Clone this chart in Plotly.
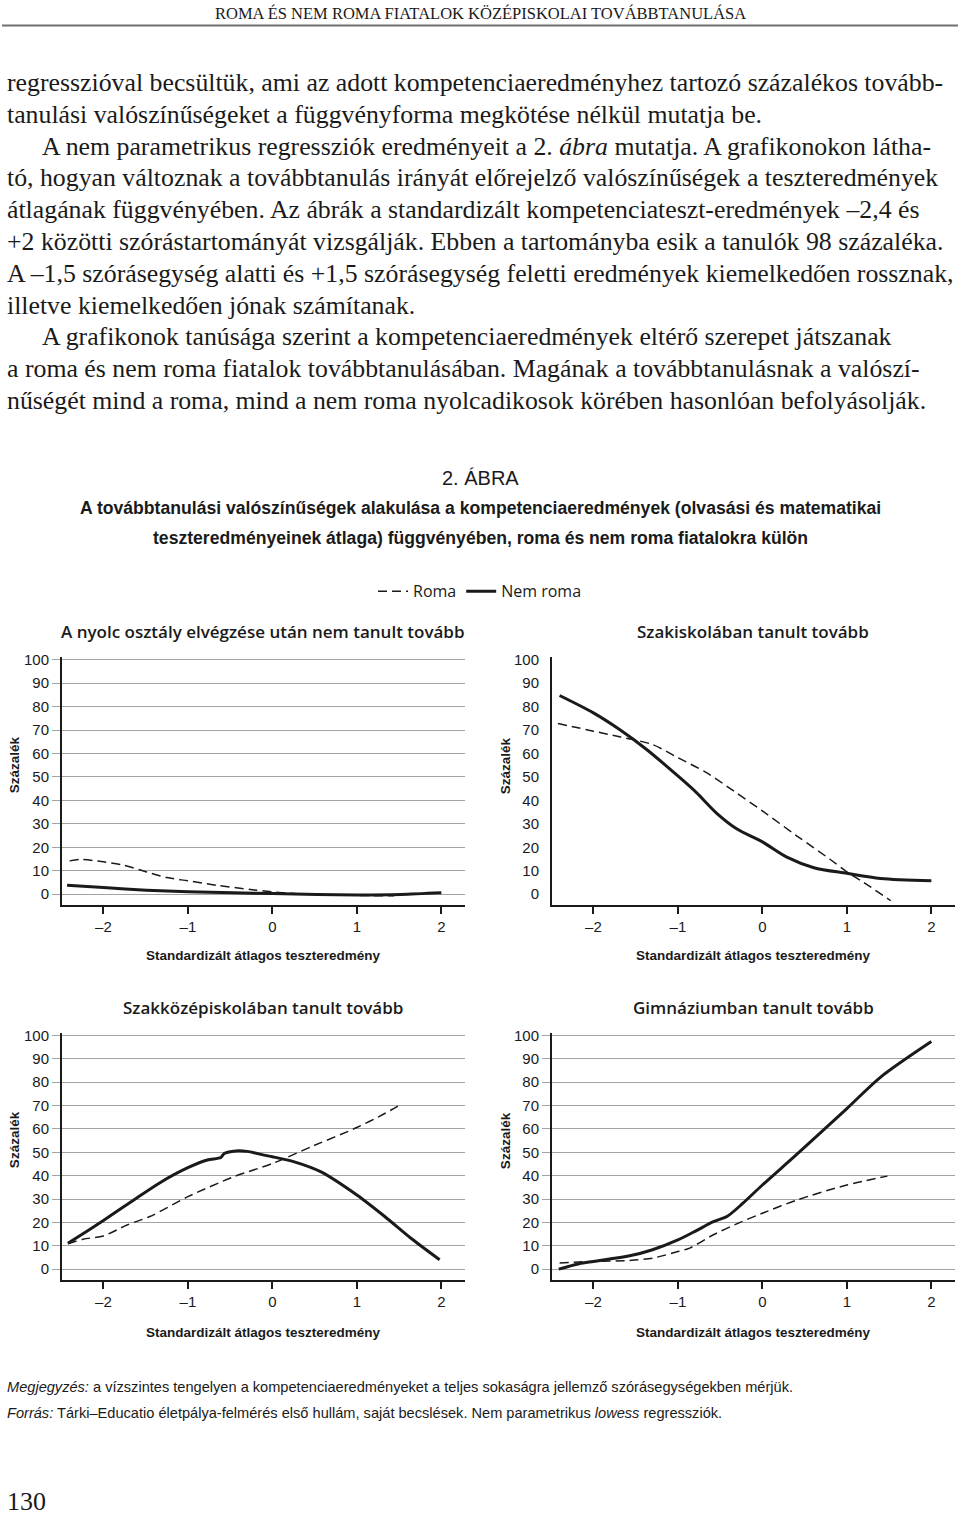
import plotly.graph_objects as go

W, H = 960, 1515

# ---- data (x = standardised score, y = percent) ----
nyolc_roma_x = [-2.40, -2.28, -2.00, -1.76, -1.49, -1.25, -1.00, -0.66, -0.26, 0.00, 0.33, 0.73, 1.12, 1.44]
nyolc_roma_y = [14.2, 14.8, 13.8, 12.4, 9.5, 7.1, 5.7, 3.8, 2.0, 1.0, 0.1, -0.3, -0.6, -0.7]
nyolc_nem_x = [-2.43, -2.00, -1.49, -1.00, -0.46, 0.00, 0.53, 1.00, 1.52, 2.00]
nyolc_nem_y = [3.8, 2.8, 1.7, 1.0, 0.6, 0.3, -0.1, -0.3, -0.1, 0.6]

szaki_roma_x = [-2.42, -2.00, -1.69, -1.30, -1.00, -0.66, -0.34, 0.00, 0.41, 0.80, 1.00, 1.20, 1.52]
szaki_roma_y = [72.8, 69.5, 67.1, 63.8, 58.2, 51.8, 44.0, 35.5, 24.8, 14.9, 9.5, 5.0, -2.8]
szaki_nem_x = [-2.40, -2.00, -1.69, -1.37, -1.00, -0.78, -0.54, -0.30, 0.00, 0.29, 0.61, 1.00, 1.40, 2.00]
szaki_nem_y = [84.7, 77.3, 70.2, 61.7, 50.4, 43.3, 34.5, 27.8, 22.3, 15.8, 11.3, 8.9, 6.7, 5.7]

szakkozep_roma_x = [-2.42, -2.24, -2.00, -1.72, -1.45, -1.00, -0.46, 0.00, 0.50, 1.00, 1.33, 1.50]
szakkozep_roma_y = [10.8, 12.8, 14.2, 18.9, 22.5, 31.0, 39.5, 45.2, 53.0, 60.6, 66.6, 70.1]
szakkozep_nem_x = [-2.42, -2.20, -2.00, -1.64, -1.33, -1.00, -0.77, -0.61, -0.57, -0.46, -0.30, -0.10,
                   0.00, 0.26, 0.57, 1.00, 1.33, 1.64, 1.98]
szakkozep_nem_y = [11.1, 16.1, 20.8, 29.6, 37.0, 43.4, 46.7, 47.8, 49.5, 50.5, 50.4, 48.8,
                   48.1, 45.9, 41.7, 31.7, 22.5, 13.2, 4.0]

gimn_roma_x = [-2.40, -2.00, -1.57, -1.30, -1.00, -0.86, -0.58, -0.27, 0.00, 0.41, 1.00, 1.48]
gimn_roma_y = [2.6, 3.3, 3.7, 4.7, 7.5, 9.0, 14.7, 19.9, 23.9, 29.6, 36.0, 39.8]
gimn_nem_x = [-2.41, -2.17, -2.00, -1.57, -1.30, -1.00, -0.78, -0.58, -0.42, -0.23, 0.00, 0.41, 1.00, 1.40, 2.00]
gimn_nem_y = [0.0, 2.3, 3.3, 5.7, 8.3, 12.5, 16.5, 20.3, 22.5, 28.2, 36.0, 49.2, 68.7, 82.2, 97.4]

panel_titles = [
    "A nyolc osztály elvégzése után nem tanult tovább",
    "Szakiskolában tanult tovább",
    "Szakközépiskolában tanult tovább",
    "Gimnáziumban tanult tovább",
]
x_ticks = [-2, -1, 0, 1, 2]
x_ticktext = ["–2", "–1", "0", "1", "2"]
y_ticks = [0, 10, 20, 30, 40, 50, 60, 70, 80, 90, 100]

body_lines = [
    "regresszióval becsültük, ami az adott kompetenciaeredményhez tartozó százalékos tovább-",
    "tanulási valószínűségeket a függvényforma megkötése nélkül mutatja be.",
    "A nem parametrikus regressziók eredményeit a 2. <i>ábra</i> mutatja. A grafikonokon látha-",
    "tó, hogyan változnak a továbbtanulás irányát előrejelző valószínűségek a teszteredmények",
    "átlagának függvényében. Az ábrák a standardizált kompetenciateszt-eredmények –2,4 és",
    "+2 közötti szórástartományát vizsgálják. Ebben a tartományba esik a tanulók 98 százaléka.",
    "A –1,5 szórásegység alatti és +1,5 szórásegység feletti eredmények kiemelkedően rossznak,",
    "illetve kiemelkedően jónak számítanak.",
    "A grafikonok tanúsága szerint a kompetenciaeredmények eltérő szerepet játszanak",
    "a roma és nem roma fiatalok továbbtanulásában. Magának a továbbtanulásnak a valószí-",
    "nűségét mind a roma, mind a nem roma nyolcadikosok körében hasonlóan befolyásolják.",
]
indented = {2, 8}

SERIF = "Liberation Serif, DejaVu Serif, serif"
COND = "Liberation Sans, Arial, sans-serif"
SANS = "Open Sans, Liberation Sans, sans-serif"
GRID = "#a3a3a3"
INK = "#1a1a1a"


def px(xp):
    return xp / W


def py(yp):
    # small empirical nudge: things near the top rendered a few px low
    yp = yp - 5.5 * (1 - yp / H)
    return 1 - yp / H


fig = go.Figure()

panels = [
    ("x", "y", nyolc_roma_x, nyolc_roma_y, nyolc_nem_x, nyolc_nem_y),
    ("x2", "y2", szaki_roma_x, szaki_roma_y, szaki_nem_x, szaki_nem_y),
    ("x3", "y3", szakkozep_roma_x, szakkozep_roma_y, szakkozep_nem_x, szakkozep_nem_y),
    ("x4", "y4", gimn_roma_x, gimn_roma_y, gimn_nem_x, gimn_nem_y),
]
for i, (xa, ya, rx, ry, nx, ny) in enumerate(panels):
    fig.add_trace(go.Scatter(
        x=rx, y=ry, xaxis=xa, yaxis=ya, mode="lines", name="Roma",
        line=dict(color=INK, width=1.5, dash="9px,5px", shape="spline", smoothing=0.8),
        showlegend=(i == 0), hoverinfo="skip",
    ))
    fig.add_trace(go.Scatter(
        x=nx, y=ny, xaxis=xa, yaxis=ya, mode="lines", name="Nem roma",
        line=dict(color=INK, width=3, shape="spline", smoothing=0.8),
        showlegend=(i == 0), hoverinfo="skip",
    ))

# panel geometry (pixels)
left_dom = [px(62), px(465)]
right_dom = [px(552), px(955)]
top_dom = [py(905), py(657)]
bot_dom = [py(1280), py(1033)]

xcommon = dict(
    range=[-2.49, 2.28], tickvals=x_ticks, ticktext=x_ticktext,
    showgrid=False, zeroline=False, showline=True, linecolor=INK, linewidth=2,
    ticks="outside", ticklen=7, tickwidth=1.5, tickcolor=INK,
    tickfont=dict(family=COND, size=15, color=INK), fixedrange=True,
)
ycommon = dict(
    range=[-4.7, 101], tickvals=y_ticks, showgrid=True, gridcolor=GRID, gridwidth=1.2,
    zeroline=False, showline=True, linecolor=INK, linewidth=2,
    ticks="outside", ticklen=8, tickwidth=1.2, tickcolor=GRID,
    tickfont=dict(family=COND, size=15, color=INK), fixedrange=True,
)

fig.update_layout(
    xaxis=dict(domain=left_dom, anchor="y", **xcommon),
    yaxis=dict(domain=top_dom, anchor="x", **ycommon),
    xaxis2=dict(domain=right_dom, anchor="y2", **xcommon),
    yaxis2=dict(domain=top_dom, anchor="x2", **{**ycommon, "showgrid": False,
                                                 "tickcolor": "rgba(0,0,0,0)"}),
    # the printed grid of this panel is slightly compressed against its labels
    yaxis5=dict(overlaying="y2", anchor="x2", range=[-13.0, 101.06], tickvals=y_ticks,
                showgrid=True, gridcolor=GRID, gridwidth=1.2, zeroline=False,
                showline=False, ticks="outside", ticklen=8, tickwidth=1.2,
                tickcolor=GRID, showticklabels=False, fixedrange=True),
    xaxis3=dict(domain=left_dom, anchor="y3", **xcommon),
    yaxis3=dict(domain=bot_dom, anchor="x3", **ycommon),
    xaxis4=dict(domain=right_dom, anchor="y4", **xcommon),
    yaxis4=dict(domain=bot_dom, anchor="x4", **ycommon),
)

ann = []


def txt(x, y, text, size, family, xanchor="left", color=INK, weight=None, textangle=0):
    f = dict(family=family, size=size, color=color)
    if weight:
        f["weight"] = weight
    ann.append(dict(x=px(x), y=py(y), xref="paper", yref="paper", text=text,
                    showarrow=False, xanchor=xanchor, yanchor="middle",
                    font=f, textangle=textangle))


# running head
txt(480, 13, "ROMA ÉS NEM ROMA FIATALOK KÖZÉPISKOLAI TOVÁBBTANULÁSA", 16.5, SERIF, "center")

# body text
for i, line in enumerate(body_lines):
    txt(40 if i in indented else 5, 82 + 31.8 * i, line, 25.8, SERIF)

# figure caption
txt(480, 478, "2. ÁBRA", 20, COND, "center")
txt(480, 508, "A továbbtanulási valószínűségek alakulása a kompetenciaeredmények (olvasási és matematikai",
    17.6, COND, "center", weight="bold")
txt(480, 538, "teszteredményeinek átlaga) függvényében, roma és nem roma fiatalokra külön",
    17.6, COND, "center", weight="bold")

# panel titles, axis titles
centers = [(263, 631, 14, 765, 955), (753, 631, 505, 765, 955),
           (263, 1007, 14, 1140, 1332), (753, 1007, 505, 1140, 1332)]
for t, (cx, ty, yx, yy, xy) in zip(panel_titles, centers):
    txt(cx, ty, t, 17, SANS, "center", weight=600)
    txt(cx, xy, "Standardizált átlagos teszteredmény", 13.5, COND, "center", weight="bold")
    txt(yx, yy, "Százalék", 13.5, COND, "center", weight="bold", textangle=-90)

# notes
txt(5, 1387, "<i>Megjegyzés:</i> a vízszintes tengelyen a kompetenciaeredményeket a teljes "
             "sokaságra jellemző szórásegységekben mérjük.", 14.6, COND)
txt(5, 1413, "<i>Forrás:</i> Tárki–Educatio életpálya-felmérés első hullám, saját becslések. "
             "Nem parametrikus <i>lowess</i> regressziók.", 14.6, COND)
txt(5, 1501, "130", 26, SERIF)

fig.update_layout(
    width=W, height=H, margin=dict(l=0, r=0, t=0, b=0),
    paper_bgcolor="white", plot_bgcolor="white",
    annotations=ann,
    shapes=[dict(type="line", xref="paper", yref="paper", x0=px(2), x1=px(958),
                 y0=py(25), y1=py(25), line=dict(color="#6e6e6e", width=2))],
    legend=dict(orientation="h", x=0.5, xanchor="center", y=py(591), yanchor="middle",
                font=dict(family=SANS, size=16, color=INK), itemwidth=30,
                bgcolor="rgba(0,0,0,0)", traceorder="normal"),
    showlegend=True,
)

# pin the plot to the page's top-left corner so pixel positions line up
pin = (
    "document.body.style.margin='0px';document.body.style.padding='0px';"
    "document.documentElement.style.overflow='hidden';"
    "var d=document.getElementById('{plot_id}');"
    "d.style.position='absolute';d.style.top='0px';d.style.left='0px';"
)
fig.write_html("out.html", config={"displayModeBar": False}, post_script=pin)
